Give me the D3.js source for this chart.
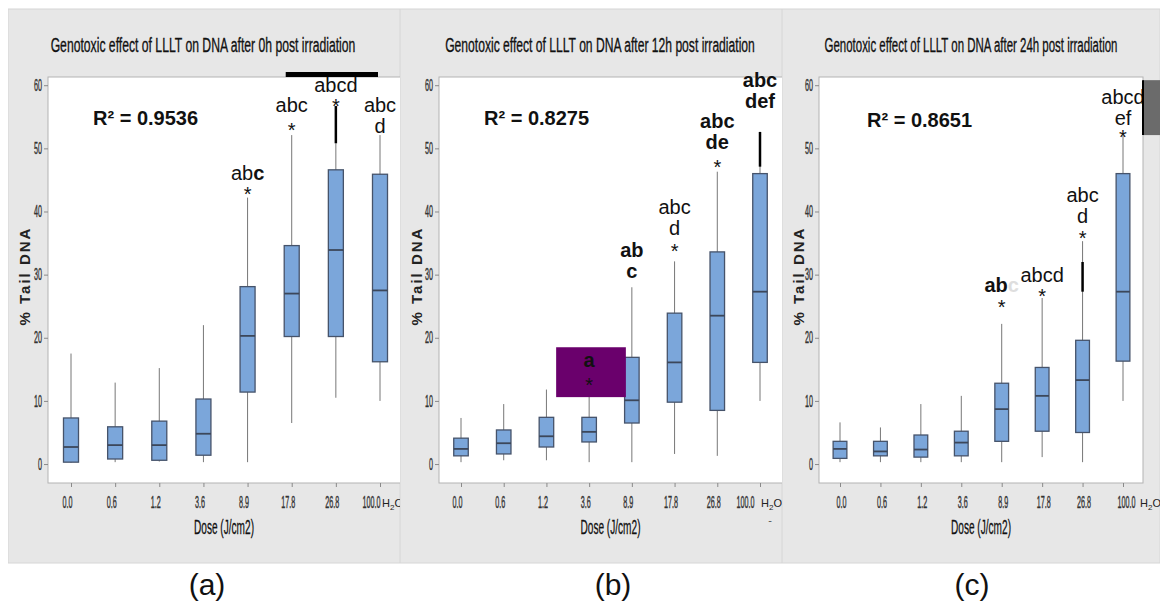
<!DOCTYPE html>
<html>
<head>
<meta charset="utf-8">
<script src="https://cdn.jsdelivr.net/npm/d3@7"></script>
<style>
  body { margin: 0; background: #fff; }
  svg { display: block; font-family: "Liberation Sans", Arial, sans-serif; }
</style>
</head>
<body>
<svg id="fig" width="1160" height="604"></svg>
<script>
// ---- data ----
const doses = ["0.0", "0.6", "1.2", "3.6", "8.9", "17.8", "26.8", "100.0"];
const yTicks = [0, 10, 20, 30, 40, 50, 60];
const hours = ["0h", "12h", "24h"];
const panelTags = ["(a)", "(b)", "(c)"];
const r2Values = ["0.9536", "0.8275", "0.8651"];

// [low whisker, Q1, median, Q3, high whisker] for each dose
const stats0h = [
  [0.2, 0.3, 2.7, 7.3, 17.5], [0.3, 0.8, 3.0, 5.9, 12.9], [0.4, 0.6, 3.0, 6.8, 15.2],
  [0.3, 1.4, 4.8, 10.3, 22.0], [0.3, 11.4, 20.3, 28.1, 42.2], [6.5, 20.2, 27.0, 34.6, 52.1],
  [10.5, 20.2, 33.9, 46.6, 50.8], [10.0, 16.2, 27.5, 45.9, 52.1]
];
const stats12h = [
  [0.3, 1.3, 2.4, 4.1, 7.3], [0.6, 1.6, 3.3, 5.4, 9.5], [0.6, 2.7, 4.4, 7.4, 11.8],
  [0.3, 3.5, 5.1, 7.4, 11.0], [0.3, 6.5, 10.1, 16.9, 28.0], [1.6, 9.8, 16.1, 23.9, 32.1],
  [1.3, 8.5, 23.5, 33.6, 46.3], [10.0, 16.1, 27.3, 46.0, 52.6]
];
const stats24h = [
  [0.3, 0.9, 2.4, 3.6, 6.6], [0.3, 1.3, 2.0, 3.6, 5.8], [0.3, 1.1, 2.3, 4.6, 9.5],
  [0.3, 1.3, 3.4, 5.2, 10.8], [0.3, 3.6, 8.7, 12.8, 22.2], [1.1, 5.2, 10.8, 15.3, 26.3],
  [0.3, 5.0, 13.3, 19.6, 35.3], [10.0, 16.3, 27.3, 46.0, 52.4]
];

// significance letters: [bold], {faint}; "at" = level of first line, "star" = level of asterisk
const letters0h = [
  { dose: "8.9", lines: ["ab[c]"], at: 46.1, star: 43.4 },
  { dose: "17.8", lines: ["abc"], at: 56.9, star: 53.5 },
  { dose: "26.8", lines: ["abcd"], at: 60.1, star: 57.3 },
  { dose: "100.0", lines: ["abc", "d"], at: 56.9, star: null }
];
const letters12h = [
  { dose: "3.6", lines: ["[a]"], at: 16.5, star: 13.2 },
  { dose: "8.9", lines: ["[ab]", "[c]"], at: 33.9, star: null },
  { dose: "17.8", lines: ["abc", "d"], at: 40.7, star: 34.4 },
  { dose: "26.8", lines: ["[abc]", "[de]"], at: 54.3, star: 47.7 },
  { dose: "100.0", lines: ["[abc]", "[def]"], at: 60.8, star: null }
];
const letters24h = [
  { dose: "8.9", lines: ["[ab]{c}"], at: 28.4, star: 25.5 },
  { dose: "17.8", lines: ["abcd"], at: 30.0, star: 27.2 },
  { dose: "26.8", lines: ["abc", "d"], at: 42.6, star: 36.4 },
  { dose: "100.0", lines: ["abcd", "ef"], at: 58.1, star: 52.4 }
];

// thick black strokes pasted over some whiskers
const blackMarks0h = [{ dose: "26.8", from: 50.8, to: 56.7 }];
const blackMarks12h = [{ dose: "100.0", from: 47.1, to: 52.6 }];
const blackMarks24h = [{ dose: "26.8", from: 27.3, to: 32.0 }];

const allStats = [stats0h, stats12h, stats24h];
const allLetters = [letters0h, letters12h, letters24h];
const allMarks = [blackMarks0h, blackMarks12h, blackMarks24h];

// ---- layout ----
const layout = [
  { gx0: 8,   gx1: 400,  left: 48,  right: 412,  first: 71,  last: 380,  titleX: 203, titleW: 305, tagX: 207, lblDx: -4, lastDx: -9,  h2oDx: 2 },
  { gx0: 400, gx1: 782,  left: 439, right: 790,  first: 461, last: 760,  titleX: 600, titleW: 310, tagX: 613, lblDx: -4, lastDx: -15, h2oDx: 1 },
  { gx0: 782, gx1: 1160, left: 819, right: 1143, first: 840, last: 1123, titleX: 971, titleW: 293, tagX: 972, lblDx: 1,  lastDx: 3,   h2oDx: 17 }
];
const plotTop = 77, plotBottom = 483, grayTop = 9, grayBottom = 563;
const squeeze = 0.45;      // the figure text is strongly condensed
const lineStep = 21;

const svg = d3.select("#fig");
const y = d3.scaleLinear().domain([-3, 61.3]).range([plotBottom, plotTop]);

function richText(sel, str) {
  const re = /\[([^\]]*)\]|\{([^}]*)\}|([^\[{]+)/g;
  let m;
  while ((m = re.exec(str)) !== null) {
    if (m[1] !== undefined) sel.append("tspan").attr("font-weight", "bold").text(m[1]);
    else if (m[2] !== undefined) sel.append("tspan").attr("font-weight", "bold").attr("fill", "#dedede").text(m[2]);
    else sel.append("tspan").text(m[3]);
  }
}

// squeeze a centred text horizontally until it is `width` pixels wide
function fitWidth(sel, cx, cy, width) {
  const w = sel.node().getComputedTextLength();
  sel.attr("x", 0).attr("y", 0)
    .attr("transform", `translate(${cx},${cy}) scale(${width / w},1)`);
}

layout.forEach((L, p) => {
  const clipId = "clip" + p;
  svg.append("clipPath").attr("id", clipId)
    .append("rect").attr("x", L.gx0).attr("y", 0).attr("width", L.gx1 - L.gx0).attr("height", 604);

  const g = svg.append("g").attr("clip-path", `url(#${clipId})`);

  g.append("rect")
    .attr("x", L.gx0).attr("y", grayTop)
    .attr("width", L.gx1 - L.gx0).attr("height", grayBottom - grayTop)
    .attr("fill", "#e7e7e7").attr("stroke", "#d6d6d6");

  g.append("rect")
    .attr("x", L.left).attr("y", plotTop)
    .attr("width", L.right - L.left).attr("height", plotBottom - plotTop)
    .attr("fill", "#fff").attr("stroke", "#b3b3b3");

  const x = d3.scalePoint().domain(doses).range([L.first, L.last]);
  const boxW = x.step() * 0.34;

  // title
  const title = g.append("text")
    .attr("text-anchor", "middle")
    .attr("font-size", 21).attr("fill", "#111")
    .attr("stroke", "#111").attr("stroke-width", 0.35)
    .text(`Genotoxic effect of LLLT on DNA after ${hours[p]} post irradiation`);
  fitWidth(title, L.titleX, 52, L.titleW);

  // y axis
  const yAxis = g.append("g")
    .attr("transform", `translate(${L.left},0)`)
    .call(d3.axisLeft(y).tickValues(yTicks).tickSize(4).tickPadding(5));
  yAxis.select(".domain").remove();
  yAxis.selectAll("line").attr("stroke", "#8a8a8a");
  yAxis.selectAll("text")
    .attr("font-size", 16).attr("fill", "#333").attr("font-family", "Liberation Sans, Arial")
    .attr("stroke", "#333").attr("stroke-width", 0.4)
    .attr("x", -6 / squeeze)
    .attr("transform", `scale(${squeeze},1)`);

  // x axis
  const xAxis = g.append("g")
    .attr("transform", `translate(0,${plotBottom})`)
    .call(d3.axisBottom(x).tickSize(4));
  xAxis.select(".domain").remove();
  xAxis.selectAll("line").attr("stroke", "#8a8a8a");
  xAxis.selectAll("text")
    .attr("font-size", 16).attr("fill", "#333").attr("font-family", "Liberation Sans, Arial")
    .attr("stroke", "#333").attr("stroke-width", 0.4)
    .attr("y", 14).attr("x", d => (d === "100.0" ? L.lastDx : L.lblDx) / squeeze)
    .attr("transform", `scale(${squeeze},1)`);

  // H2O label next to last dose
  const h2o = g.append("text")
    .attr("x", x("100.0") + L.h2oDx).attr("y", 507)
    .attr("font-size", 11).attr("fill", "#222");
  h2o.append("tspan").text("H");
  h2o.append("tspan").attr("font-size", 8).attr("dy", 3).text("2");
  h2o.append("tspan").attr("dy", -3).text("O");
  if (p === 1) {
    g.append("text").attr("x", x("100.0") + 10).attr("y", 524)
      .attr("font-size", 11).attr("fill", "#555").attr("text-anchor", "middle").text("-");
  }

  // axis titles
  const xTitle = g.append("text")
    .attr("text-anchor", "middle")
    .attr("font-size", 21).attr("fill", "#111")
    .attr("stroke", "#111").attr("stroke-width", 0.3)
    .text("Dose (J/cm2)");
  fitWidth(xTitle, (L.left + Math.min(L.right, L.gx1)) / 2, 534, 60);

  g.append("text")
    .attr("transform", `translate(${L.gx0 + 22},276) rotate(-90)`)
    .attr("text-anchor", "middle")
    .attr("font-size", 15).attr("font-weight", "bold").attr("fill", "#222")
    .attr("letter-spacing", 2)
    .text("% Tail DNA");

  // boxes
  const boxes = g.append("g").selectAll("g")
    .data(allStats[p].map((s, i) => ({ dose: doses[i], s })))
    .join("g");

  boxes.append("line")
    .attr("x1", d => x(d.dose)).attr("x2", d => x(d.dose))
    .attr("y1", d => y(d.s[0])).attr("y2", d => y(d.s[4]))
    .attr("stroke", "#777").attr("stroke-width", 1);

  boxes.append("rect")
    .attr("x", d => x(d.dose) - boxW / 2).attr("width", boxW)
    .attr("y", d => y(d.s[3])).attr("height", d => y(d.s[1]) - y(d.s[3]))
    .attr("fill", "#7ba6da").attr("stroke", "#46536a").attr("stroke-width", 1.3);

  boxes.append("line")
    .attr("x1", d => x(d.dose) - boxW / 2).attr("x2", d => x(d.dose) + boxW / 2)
    .attr("y1", d => y(d.s[2])).attr("y2", d => y(d.s[2]))
    .attr("stroke", "#3c475a").attr("stroke-width", 1.8);

  // pasted decorations
  g.selectAll(".blk").data(allMarks[p]).join("line")
    .attr("x1", d => x(d.dose)).attr("x2", d => x(d.dose))
    .attr("y1", d => y(d.from)).attr("y2", d => y(d.to))
    .attr("stroke", "#000").attr("stroke-width", 2.5);

  if (p === 0) {
    g.append("rect")
      .attr("x", x("17.8") - 6).attr("y", plotTop - 5)
      .attr("width", x("100.0") - x("17.8") + 4).attr("height", 5)
      .attr("fill", "#000");
  }
  if (p === 1) {
    g.append("rect")
      .attr("x", x("3.6") - 33).attr("y", y(18.5))
      .attr("width", x("8.9") - x("3.6") + 27).attr("height", y(10.6) - y(18.5))
      .attr("fill", "#6a006c");
  }

  // R squared
  g.append("text")
    .attr("x", L.left + 45 + (p === 2 ? 3 : 0)).attr("y", p === 2 ? 127 : 125)
    .attr("font-size", 20).attr("font-weight", "bold").attr("fill", "#111")
    .text(`R² = ${r2Values[p]}`);

  // significance letters
  allLetters[p].forEach(a => {
    a.lines.forEach((ln, k) => {
      const t = g.append("text")
        .attr("x", x(a.dose)).attr("y", y(a.at) + 7 + k * lineStep)
        .attr("text-anchor", "middle")
        .attr("font-size", 20).attr("fill", "#111");
      richText(t, ln);
    });
    if (a.star !== null) {
      g.append("text")
        .attr("x", x(a.dose)).attr("y", y(a.star) + 11)
        .attr("text-anchor", "middle")
        .attr("font-size", 20).attr("fill", "#111")
        .text("*");
    }
  });

  if (p === 2) {
    g.append("rect")
      .attr("x", L.right).attr("y", y(60.8))
      .attr("width", L.gx1 - L.right).attr("height", y(52.1) - y(60.8))
      .attr("fill", "#6b6b6b");
    g.append("line")
      .attr("x1", L.right).attr("x2", L.right)
      .attr("y1", y(60.8)).attr("y2", y(52.1))
      .attr("stroke", "#000").attr("stroke-width", 2);
  }

  // panel tag
  svg.append("text")
    .attr("x", L.tagX).attr("y", 595)
    .attr("text-anchor", "middle")
    .attr("font-size", 30).attr("fill", "#111")
    .text(panelTags[p]);
});
</script>
</body>
</html>
